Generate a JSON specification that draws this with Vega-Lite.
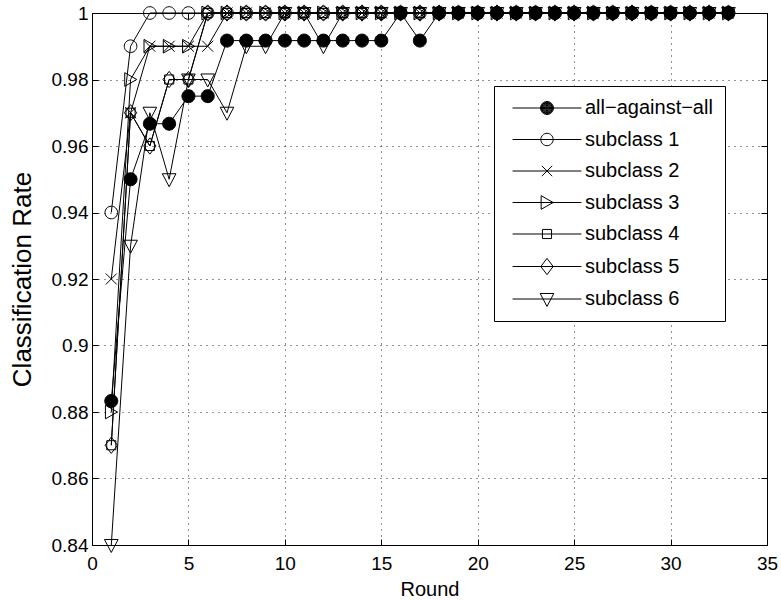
{
  "$schema": "https://vega.github.io/schema/vega-lite/v6.json",
  "width": 675,
  "height": 532,
  "autosize": {"type": "none"},
  "padding": {"left": 92, "top": 13, "right": 14, "bottom": 55},
  "background": "white",
  "config": {
    "view": {"stroke": "black", "strokeWidth": 1},
    "font": "Liberation Sans",
    "axis": {"labelFont": "Liberation Sans", "titleFont": "Liberation Sans", "labelColor": "black", "titleColor": "black", "titleFontWeight": "normal", "domainColor": "black", "tickColor": "black"}
  },
  "data": {"values": [
    {"r":1,"s":"all−against−all","v":0.8833},{"r":2,"s":"all−against−all","v":0.95},{"r":3,"s":"all−against−all","v":0.9667},{"r":4,"s":"all−against−all","v":0.9667},{"r":5,"s":"all−against−all","v":0.975},{"r":6,"s":"all−against−all","v":0.975},{"r":7,"s":"all−against−all","v":0.9917},{"r":8,"s":"all−against−all","v":0.9917},{"r":9,"s":"all−against−all","v":0.9917},{"r":10,"s":"all−against−all","v":0.9917},{"r":11,"s":"all−against−all","v":0.9917},{"r":12,"s":"all−against−all","v":0.9917},{"r":13,"s":"all−against−all","v":0.9917},{"r":14,"s":"all−against−all","v":0.9917},{"r":15,"s":"all−against−all","v":0.9917},{"r":16,"s":"all−against−all","v":1},{"r":17,"s":"all−against−all","v":0.9917},{"r":18,"s":"all−against−all","v":1},{"r":19,"s":"all−against−all","v":1},{"r":20,"s":"all−against−all","v":1},{"r":21,"s":"all−against−all","v":1},{"r":22,"s":"all−against−all","v":1},{"r":23,"s":"all−against−all","v":1},{"r":24,"s":"all−against−all","v":1},{"r":25,"s":"all−against−all","v":1},{"r":26,"s":"all−against−all","v":1},{"r":27,"s":"all−against−all","v":1},{"r":28,"s":"all−against−all","v":1},{"r":29,"s":"all−against−all","v":1},{"r":30,"s":"all−against−all","v":1},{"r":31,"s":"all−against−all","v":1},{"r":32,"s":"all−against−all","v":1},{"r":33,"s":"all−against−all","v":1},
    {"r":1,"s":"subclass 1","v":0.94},{"r":2,"s":"subclass 1","v":0.99},{"r":3,"s":"subclass 1","v":1},{"r":4,"s":"subclass 1","v":1},{"r":5,"s":"subclass 1","v":1},{"r":6,"s":"subclass 1","v":1},{"r":7,"s":"subclass 1","v":1},{"r":8,"s":"subclass 1","v":1},{"r":9,"s":"subclass 1","v":1},{"r":10,"s":"subclass 1","v":1},{"r":11,"s":"subclass 1","v":1},{"r":12,"s":"subclass 1","v":1},{"r":13,"s":"subclass 1","v":1},{"r":14,"s":"subclass 1","v":1},{"r":15,"s":"subclass 1","v":1},{"r":16,"s":"subclass 1","v":1},{"r":17,"s":"subclass 1","v":1},{"r":18,"s":"subclass 1","v":1},{"r":19,"s":"subclass 1","v":1},{"r":20,"s":"subclass 1","v":1},{"r":21,"s":"subclass 1","v":1},{"r":22,"s":"subclass 1","v":1},{"r":23,"s":"subclass 1","v":1},{"r":24,"s":"subclass 1","v":1},{"r":25,"s":"subclass 1","v":1},{"r":26,"s":"subclass 1","v":1},{"r":27,"s":"subclass 1","v":1},{"r":28,"s":"subclass 1","v":1},{"r":29,"s":"subclass 1","v":1},{"r":30,"s":"subclass 1","v":1},{"r":31,"s":"subclass 1","v":1},{"r":32,"s":"subclass 1","v":1},{"r":33,"s":"subclass 1","v":1},
    {"r":1,"s":"subclass 2","v":0.92},{"r":2,"s":"subclass 2","v":0.97},{"r":3,"s":"subclass 2","v":0.99},{"r":4,"s":"subclass 2","v":0.99},{"r":5,"s":"subclass 2","v":0.99},{"r":6,"s":"subclass 2","v":0.99},{"r":7,"s":"subclass 2","v":1},{"r":8,"s":"subclass 2","v":1},{"r":9,"s":"subclass 2","v":1},{"r":10,"s":"subclass 2","v":1},{"r":11,"s":"subclass 2","v":1},{"r":12,"s":"subclass 2","v":1},{"r":13,"s":"subclass 2","v":1},{"r":14,"s":"subclass 2","v":1},{"r":15,"s":"subclass 2","v":1},{"r":16,"s":"subclass 2","v":1},{"r":17,"s":"subclass 2","v":1},{"r":18,"s":"subclass 2","v":1},{"r":19,"s":"subclass 2","v":1},{"r":20,"s":"subclass 2","v":1},{"r":21,"s":"subclass 2","v":1},{"r":22,"s":"subclass 2","v":1},{"r":23,"s":"subclass 2","v":1},{"r":24,"s":"subclass 2","v":1},{"r":25,"s":"subclass 2","v":1},{"r":26,"s":"subclass 2","v":1},{"r":27,"s":"subclass 2","v":1},{"r":28,"s":"subclass 2","v":1},{"r":29,"s":"subclass 2","v":1},{"r":30,"s":"subclass 2","v":1},{"r":31,"s":"subclass 2","v":1},{"r":32,"s":"subclass 2","v":1},{"r":33,"s":"subclass 2","v":1},
    {"r":1,"s":"subclass 3","v":0.88},{"r":2,"s":"subclass 3","v":0.98},{"r":3,"s":"subclass 3","v":0.99},{"r":4,"s":"subclass 3","v":0.99},{"r":5,"s":"subclass 3","v":0.99},{"r":6,"s":"subclass 3","v":1},{"r":7,"s":"subclass 3","v":1},{"r":8,"s":"subclass 3","v":1},{"r":9,"s":"subclass 3","v":1},{"r":10,"s":"subclass 3","v":1},{"r":11,"s":"subclass 3","v":1},{"r":12,"s":"subclass 3","v":1},{"r":13,"s":"subclass 3","v":1},{"r":14,"s":"subclass 3","v":1},{"r":15,"s":"subclass 3","v":1},{"r":16,"s":"subclass 3","v":1},{"r":17,"s":"subclass 3","v":1},{"r":18,"s":"subclass 3","v":1},{"r":19,"s":"subclass 3","v":1},{"r":20,"s":"subclass 3","v":1},{"r":21,"s":"subclass 3","v":1},{"r":22,"s":"subclass 3","v":1},{"r":23,"s":"subclass 3","v":1},{"r":24,"s":"subclass 3","v":1},{"r":25,"s":"subclass 3","v":1},{"r":26,"s":"subclass 3","v":1},{"r":27,"s":"subclass 3","v":1},{"r":28,"s":"subclass 3","v":1},{"r":29,"s":"subclass 3","v":1},{"r":30,"s":"subclass 3","v":1},{"r":31,"s":"subclass 3","v":1},{"r":32,"s":"subclass 3","v":1},{"r":33,"s":"subclass 3","v":1},
    {"r":1,"s":"subclass 4","v":0.87},{"r":2,"s":"subclass 4","v":0.97},{"r":3,"s":"subclass 4","v":0.96},{"r":4,"s":"subclass 4","v":0.98},{"r":5,"s":"subclass 4","v":0.98},{"r":6,"s":"subclass 4","v":1},{"r":7,"s":"subclass 4","v":1},{"r":8,"s":"subclass 4","v":1},{"r":9,"s":"subclass 4","v":1},{"r":10,"s":"subclass 4","v":1},{"r":11,"s":"subclass 4","v":1},{"r":12,"s":"subclass 4","v":1},{"r":13,"s":"subclass 4","v":1},{"r":14,"s":"subclass 4","v":1},{"r":15,"s":"subclass 4","v":1},{"r":16,"s":"subclass 4","v":1},{"r":17,"s":"subclass 4","v":1},{"r":18,"s":"subclass 4","v":1},{"r":19,"s":"subclass 4","v":1},{"r":20,"s":"subclass 4","v":1},{"r":21,"s":"subclass 4","v":1},{"r":22,"s":"subclass 4","v":1},{"r":23,"s":"subclass 4","v":1},{"r":24,"s":"subclass 4","v":1},{"r":25,"s":"subclass 4","v":1},{"r":26,"s":"subclass 4","v":1},{"r":27,"s":"subclass 4","v":1},{"r":28,"s":"subclass 4","v":1},{"r":29,"s":"subclass 4","v":1},{"r":30,"s":"subclass 4","v":1},{"r":31,"s":"subclass 4","v":1},{"r":32,"s":"subclass 4","v":1},{"r":33,"s":"subclass 4","v":1},
    {"r":1,"s":"subclass 5","v":0.87},{"r":2,"s":"subclass 5","v":0.97},{"r":3,"s":"subclass 5","v":0.96},{"r":4,"s":"subclass 5","v":0.98},{"r":5,"s":"subclass 5","v":0.98},{"r":6,"s":"subclass 5","v":1},{"r":7,"s":"subclass 5","v":1},{"r":8,"s":"subclass 5","v":1},{"r":9,"s":"subclass 5","v":1},{"r":10,"s":"subclass 5","v":1},{"r":11,"s":"subclass 5","v":1},{"r":12,"s":"subclass 5","v":1},{"r":13,"s":"subclass 5","v":1},{"r":14,"s":"subclass 5","v":1},{"r":15,"s":"subclass 5","v":1},{"r":16,"s":"subclass 5","v":1},{"r":17,"s":"subclass 5","v":1},{"r":18,"s":"subclass 5","v":1},{"r":19,"s":"subclass 5","v":1},{"r":20,"s":"subclass 5","v":1},{"r":21,"s":"subclass 5","v":1},{"r":22,"s":"subclass 5","v":1},{"r":23,"s":"subclass 5","v":1},{"r":24,"s":"subclass 5","v":1},{"r":25,"s":"subclass 5","v":1},{"r":26,"s":"subclass 5","v":1},{"r":27,"s":"subclass 5","v":1},{"r":28,"s":"subclass 5","v":1},{"r":29,"s":"subclass 5","v":1},{"r":30,"s":"subclass 5","v":1},{"r":31,"s":"subclass 5","v":1},{"r":32,"s":"subclass 5","v":1},{"r":33,"s":"subclass 5","v":1},
    {"r":1,"s":"subclass 6","v":0.84},{"r":2,"s":"subclass 6","v":0.93},{"r":3,"s":"subclass 6","v":0.97},{"r":4,"s":"subclass 6","v":0.95},{"r":5,"s":"subclass 6","v":0.98},{"r":6,"s":"subclass 6","v":0.98},{"r":7,"s":"subclass 6","v":0.97},{"r":8,"s":"subclass 6","v":0.99},{"r":9,"s":"subclass 6","v":0.99},{"r":10,"s":"subclass 6","v":1},{"r":11,"s":"subclass 6","v":1},{"r":12,"s":"subclass 6","v":0.99},{"r":13,"s":"subclass 6","v":1},{"r":14,"s":"subclass 6","v":1},{"r":15,"s":"subclass 6","v":1},{"r":16,"s":"subclass 6","v":1},{"r":17,"s":"subclass 6","v":1},{"r":18,"s":"subclass 6","v":1},{"r":19,"s":"subclass 6","v":1},{"r":20,"s":"subclass 6","v":1},{"r":21,"s":"subclass 6","v":1},{"r":22,"s":"subclass 6","v":1},{"r":23,"s":"subclass 6","v":1},{"r":24,"s":"subclass 6","v":1},{"r":25,"s":"subclass 6","v":1},{"r":26,"s":"subclass 6","v":1},{"r":27,"s":"subclass 6","v":1},{"r":28,"s":"subclass 6","v":1},{"r":29,"s":"subclass 6","v":1},{"r":30,"s":"subclass 6","v":1},{"r":31,"s":"subclass 6","v":1},{"r":32,"s":"subclass 6","v":1},{"r":33,"s":"subclass 6","v":1}
  ]},
  "layer": [
    {
      "mark": {"type": "line", "color": "black", "strokeWidth": 1},
      "encoding": {
        "x": {"field": "r", "type": "quantitative", "scale": {"domain": [0, 35], "nice": false},
          "axis": {"title": "Round", "values": [0,5,10,15,20,25,30,35], "grid": true, "gridDash": [1,5], "gridColor": "#000", "gridOpacity": 0.85, "tickSize": -6, "labelFontSize": 19, "labelPadding": 15, "titleFontSize": 20, "titlePadding": 6, "labelFlush": false}},
        "y": {"field": "v", "type": "quantitative", "scale": {"domain": [0.84, 1], "nice": false, "zero": false},
          "axis": {"title": "Classification Rate", "values": [0.84,0.86,0.88,0.9,0.92,0.94,0.96,0.98,1], "format": "~g", "grid": true, "gridDash": [1,5], "gridColor": "#000", "gridOpacity": 0.85, "tickSize": -6, "labelFontSize": 19, "labelPadding": 10, "titleFontSize": 26, "titlePadding": 16, "labelFlush": false}},
        "detail": {"field": "s"},
        "order": {"field": "r"}
      }
    },
    {
      "mark": {"type": "point", "filled": true, "stroke": "black", "strokeWidth": 1, "size": 169, "opacity": 1},
      "encoding": {
        "x": {"field": "r", "type": "quantitative", "axis": {"orient": "top", "labels": false, "title": null, "grid": false, "tickSize": -6, "values": [0,5,10,15,20,25,30,35]}},
        "y": {"field": "v", "type": "quantitative", "axis": {"orient": "right", "labels": false, "title": null, "grid": false, "tickSize": -6, "values": [0.84,0.86,0.88,0.9,0.92,0.94,0.96,0.98,1]}},
        "shape": {"field": "s", "type": "nominal", "legend": null,
          "scale": {"domain": ["all−against−all","subclass 1","subclass 2","subclass 3","subclass 4","subclass 5","subclass 6"],
            "range": ["M-1,0A1,1 0 1,0 1,0A1,1 0 1,0 -1,0Z", "M-0.97,0A0.97,0.97 0 1,0 0.97,0A0.97,0.97 0 1,0 -0.97,0Z", "M-0.85,-0.85L0.85,0.85M-0.85,0.85L0.85,-0.85", "M-0.9,-1.05L0.95,0L-0.9,1.05Z", "M-0.7,-0.7H0.7V0.7H-0.7Z", "M0,-1.25L0.95,0L0,1.25L-0.95,0Z", "M-1.05,-0.85L1.05,-0.85L0,1.15Z"]}},
        "fill": {"field": "s", "type": "nominal", "legend": null,
          "scale": {"domain": ["all−against−all","subclass 1","subclass 2","subclass 3","subclass 4","subclass 5","subclass 6"],
            "range": ["black","transparent","transparent","transparent","transparent","transparent","transparent"]}}
      }
    },
    {
      "mark": {"type": "point", "filled": false, "stroke": "black", "strokeWidth": 1, "size": 169, "opacity": 0},
      "encoding": {
        "x": {"field": "r", "type": "quantitative", "axis": null},
        "y": {"field": "v", "type": "quantitative", "axis": null},
        "shape": {"field": "s", "type": "nominal",
          "scale": {"domain": ["all−against−all","subclass 1","subclass 2","subclass 3","subclass 4","subclass 5","subclass 6"],
            "range": ["M-5.3,0H5.3M-1,0A1,1 0 1,0 1,0A1,1 0 1,0 -1,0ZM-0.9,0A0.9,0.9 0 1,0 0.9,0A0.9,0.9 0 1,0 -0.9,0ZM-0.8,0A0.8,0.8 0 1,0 0.8,0A0.8,0.8 0 1,0 -0.8,0ZM-0.7,0A0.7,0.7 0 1,0 0.7,0A0.7,0.7 0 1,0 -0.7,0ZM-0.6,0A0.6,0.6 0 1,0 0.6,0A0.6,0.6 0 1,0 -0.6,0ZM-0.5,0A0.5,0.5 0 1,0 0.5,0A0.5,0.5 0 1,0 -0.5,0ZM-0.4,0A0.4,0.4 0 1,0 0.4,0A0.4,0.4 0 1,0 -0.4,0ZM-0.3,0A0.3,0.3 0 1,0 0.3,0A0.3,0.3 0 1,0 -0.3,0ZM-0.2,0A0.2,0.2 0 1,0 0.2,0A0.2,0.2 0 1,0 -0.2,0ZM-0.1,0A0.1,0.1 0 1,0 0.1,0A0.1,0.1 0 1,0 -0.1,0Z", "M-5.3,0H5.3M-0.95,0A0.95,0.95 0 1,0 0.95,0A0.95,0.95 0 1,0 -0.95,0Z", "M-5.3,0H5.3M-0.8,-0.8L0.8,0.8M-0.8,0.8L0.8,-0.8", "M-5.3,0H5.3M-0.9,-1.05L0.95,0L-0.9,1.05Z", "M-5.3,0H5.3M-0.7,-0.7H0.7V0.7H-0.7Z", "M-5.3,0H5.3M0,-1.25L0.95,0L0,1.25L-0.95,0Z", "M-5.3,0H5.3M-1.05,-0.85L1.05,-0.85L0,1.15Z"]},
          "legend": {
            "title": null, "orient": "none", "legendX": 402, "legendY": 73,
            "padding": 12, "strokeColor": "black", "fillColor": "white",
            "labelFont": "Liberation Sans", "labelFontSize": 20, "labelColor": "black",
            "symbolSize": 169, "symbolStrokeWidth": 1, "symbolStrokeColor": "black", "symbolOpacity": 1,
            "rowPadding": 11.5, "symbolOffset": 31, "labelOffset": 28
          }}
      }
    }
  ],
  "resolve": {"axis": {"x": "independent", "y": "independent"}, "scale": {"shape": "independent"}}
}
